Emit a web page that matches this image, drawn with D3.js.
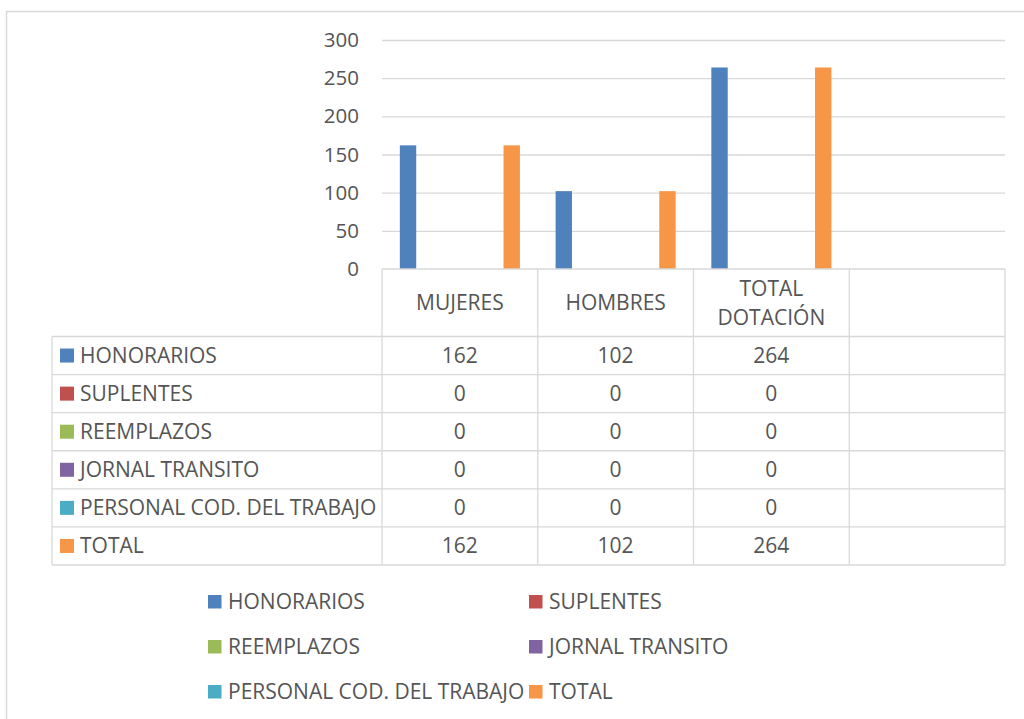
<!DOCTYPE html>
<html>
<head>
<meta charset="utf-8">
<script src="https://cdn.jsdelivr.net/npm/d3@7"></script>
<style>
  body { margin: 0; background: #fff; }
  svg { display: block; font-family: "Open Sans", "Noto Sans", sans-serif; }
  text { fill: #555555; }
</style>
</head>
<body>
<div id="chart"></div>
<script>
// data
const categories = ['MUJERES', 'HOMBRES', 'TOTAL DOTACIÓN', ''];
const seriesNames = ['HONORARIOS', 'SUPLENTES', 'REEMPLAZOS', 'JORNAL TRANSITO', 'PERSONAL COD. DEL TRABAJO', 'TOTAL'];
const honorarios = [162, 102, 264, null];
const suplentes = [0, 0, 0, null];
const reemplazos = [0, 0, 0, null];
const jornalTransito = [0, 0, 0, null];
const personalCod = [0, 0, 0, null];
const total = [162, 102, 264, null];
const yTicks = [0, 50, 100, 150, 200, 250, 300];

const seriesValues = [honorarios, suplentes, reemplazos, jornalTransito, personalCod, total];
const colors = ['#4F81BD', '#C0504D', '#9BBB59', '#8064A2', '#4BACC6', '#F79646'];
const gridColor = '#d9d9d9';

const W = 1024, H = 719;
const plot = { left: 382, right: 1005, top: 40, bottom: 269 };
const tableLeft = 52;
const headerBottom = 336.5;
const tableBottom = 565;
const tableFont = 21;
const legendFont = 21;

const svg = d3.select('#chart').append('svg')
    .attr('width', W)
    .attr('height', H);

// outer chart border (only left and top visible)
svg.append('path')
    .attr('d', 'M6.5,' + H + 'V11.5H' + W)
    .attr('fill', 'none')
    .attr('stroke', gridColor)
    .attr('stroke-width', 1.5);

const y = d3.scaleLinear()
    .domain([0, 300])
    .range([plot.bottom, plot.top]);

const x0 = d3.scaleBand()
    .domain(categories.map((c, i) => i))
    .range([plot.left, plot.right]);

const x1 = d3.scaleBand()
    .domain(seriesNames)
    .range([0, x0.bandwidth()])
    .paddingInner(0.21)
    .paddingOuter(0.86);

// gridlines
svg.append('g')
    .attr('transform', 'translate(' + plot.left + ',0)')
    .call(d3.axisLeft(y).tickValues(yTicks.filter(d => d > 0)).tickSize(-(plot.right - plot.left)).tickFormat(''))
    .call(g => g.select('.domain').remove())
    .call(g => g.selectAll('line').attr('stroke', gridColor).attr('stroke-width', 1.3));

// y axis labels
svg.append('g')
    .attr('transform', 'translate(359,0)')
    .call(d3.axisLeft(y).tickValues(yTicks).tickSize(0).tickPadding(0))
    .call(g => g.select('.domain').remove())
    .call(g => g.selectAll('text')
        .attr('font-size', 20.5)
        .attr('font-family', '"Open Sans", sans-serif')
        .attr('fill', '#555555'));

// bars
seriesNames.forEach((name, si) => {
    svg.append('g')
        .attr('fill', colors[si])
        .selectAll('rect')
        .data(seriesValues[si].map((v, ci) => ({ v: v, ci: ci })).filter(d => d.v))
        .join('rect')
        .attr('x', d => x0(d.ci) + x1(name))
        .attr('width', x1.bandwidth())
        .attr('y', d => y(d.v))
        .attr('height', d => y(0) - y(d.v));
});

// data table
const rowY = d3.scaleBand()
    .domain(seriesNames)
    .range([headerBottom, tableBottom]);

const tbl = svg.append('g')
    .attr('fill', 'none')
    .attr('stroke', gridColor)
    .attr('stroke-width', 1.3);

// header horizontal lines
tbl.append('line')
    .attr('x1', plot.left).attr('x2', plot.right)
    .attr('y1', y(0)).attr('y2', y(0));
// row lines
[headerBottom].concat(seriesNames.map(s => rowY(s) + rowY.bandwidth())).forEach(yy => {
    tbl.append('line')
        .attr('x1', tableLeft).attr('x2', plot.right)
        .attr('y1', yy).attr('y2', yy);
});
// vertical lines
tbl.append('line')
    .attr('x1', tableLeft).attr('x2', tableLeft)
    .attr('y1', headerBottom).attr('y2', tableBottom);
categories.map((c, i) => x0(i)).concat([plot.right]).forEach(xx => {
    tbl.append('line')
        .attr('x1', xx).attr('x2', xx)
        .attr('y1', y(0)).attr('y2', tableBottom);
});

// header labels
categories.forEach((c, i) => {
    const words = c === 'TOTAL DOTACIÓN' ? ['TOTAL', 'DOTACIÓN'] : [c];
    const cx = x0(i) + x0.bandwidth() / 2;
    const cy = (y(0) + headerBottom) / 2;
    words.forEach((w, wi) => {
        svg.append('text')
            .attr('x', cx)
            .attr('y', cy + (wi - (words.length - 1) / 2) * 29)
            .attr('dy', '0.35em')
            .attr('text-anchor', 'middle')
            .attr('font-size', tableFont)
            .text(w);
    });
});

// row labels with swatches and values
seriesNames.forEach((name, si) => {
    const cy = rowY(name) + rowY.bandwidth() / 2;
    svg.append('rect')
        .attr('x', 60)
        .attr('y', cy - 7)
        .attr('width', 14)
        .attr('height', 14)
        .attr('fill', colors[si]);
    svg.append('text')
        .attr('x', 80)
        .attr('y', cy)
        .attr('dy', '0.35em')
        .attr('font-size', tableFont)
        .text(name);
    seriesValues[si].forEach((v, ci) => {
        if (v === null) return;
        svg.append('text')
            .attr('x', x0(ci) + x0.bandwidth() / 2)
            .attr('y', cy)
            .attr('dy', '0.35em')
            .attr('text-anchor', 'middle')
            .attr('font-size', tableFont)
            .text(v);
    });
});

// legend (2 columns, 3 rows)
const legendX = d3.scalePoint().domain([0, 1]).range([208, 529]);
const legendY = d3.scalePoint().domain([0, 1, 2]).range([602, 692]);
seriesNames.forEach((name, si) => {
    const lx = legendX(si % 2);
    const ly = legendY(Math.floor(si / 2));
    svg.append('rect')
        .attr('x', lx)
        .attr('y', ly - 7)
        .attr('width', 13.5)
        .attr('height', 13.5)
        .attr('fill', colors[si]);
    svg.append('text')
        .attr('x', lx + 20)
        .attr('y', ly)
        .attr('dy', '0.35em')
        .attr('font-size', legendFont)
        .text(name);
});
</script>
</body>
</html>
